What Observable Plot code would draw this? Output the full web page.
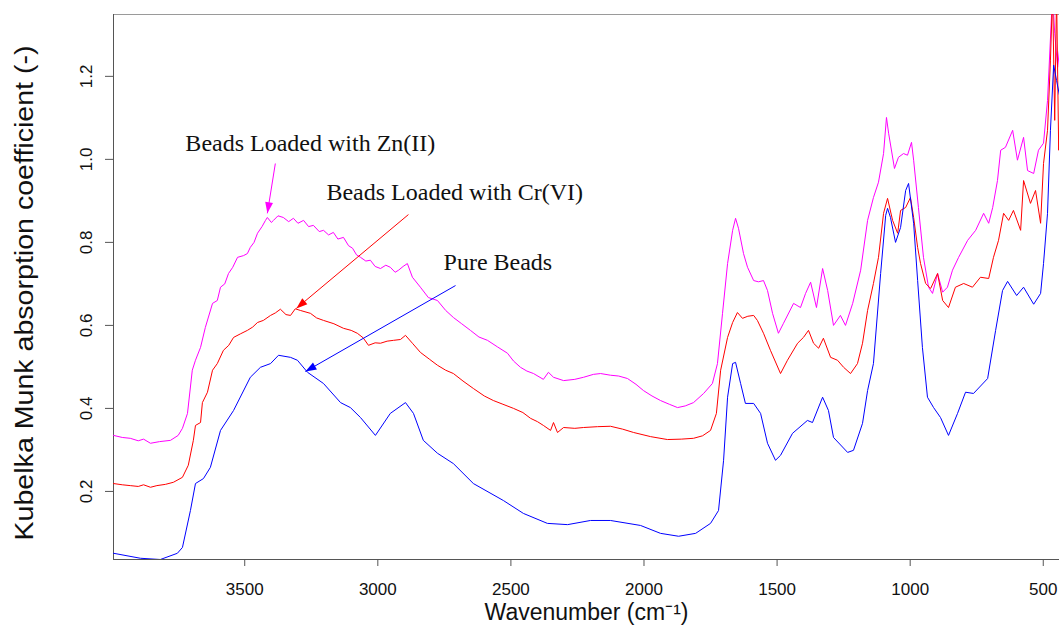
<!DOCTYPE html>
<html><head><meta charset="utf-8">
<script src="https://cdn.jsdelivr.net/npm/d3@7"></script>
<script src="https://cdn.jsdelivr.net/npm/@observablehq/plot@0.6"></script>
<style>html,body{margin:0;padding:0;background:#fff}</style>
</head><body><div id="chart"></div>
<script>
// Wavenumber (cm-1), Kubelka-Munk value
const pureBeads = [[3993,0.051],[3892,0.039],[3817,0.036],[3753,0.051],[3734,0.065],[3704,0.154],[3685,0.219],[3655,0.231],[3629,0.258],[3591,0.347],[3542,0.395],[3479,0.475],[3441,0.499],[3403,0.508],[3373,0.528],[3328,0.523],[3302,0.516],[3264,0.487],[3204,0.460],[3140,0.414],[3103,0.402],[3065,0.378],[3009,0.335],[2953,0.388],[2896,0.414],[2866,0.388],[2829,0.323],[2776,0.292],[2716,0.267],[2641,0.219],[2528,0.178],[2453,0.147],[2363,0.123],[2287,0.120],[2201,0.130],[2126,0.130],[2013,0.118],[1938,0.099],[1870,0.092],[1806,0.099],[1750,0.123],[1720,0.154],[1701,0.275],[1686,0.427],[1667,0.508],[1656,0.511],[1637,0.460],[1619,0.412],[1588,0.412],[1562,0.388],[1536,0.316],[1506,0.275],[1487,0.287],[1442,0.340],[1386,0.371],[1367,0.366],[1329,0.427],[1307,0.395],[1288,0.330],[1235,0.294],[1213,0.299],[1179,0.364],[1160,0.443],[1138,0.508],[1111,0.725],[1092,0.865],[1085,0.882],[1074,0.860],[1055,0.800],[1036,0.836],[1017,0.925],[1006,0.942],[987,0.846],[972,0.708],[954,0.547],[935,0.427],[912,0.402],[886,0.378],[856,0.335],[822,0.388],[792,0.439],[762,0.436],[709,0.472],[679,0.588],[653,0.684],[634,0.706],[600,0.672],[574,0.692],[536,0.651],[510,0.677],[499,0.749],[484,0.870],[473,1.070],[461,1.227],[450,1.190],[439,1.154]];

const crBeads = [[3993,0.219],[3960,0.216],[3930,0.214],[3900,0.212],[3880,0.216],[3854,0.210],[3830,0.214],[3798,0.217],[3768,0.222],[3734,0.234],[3712,0.263],[3693,0.323],[3685,0.359],[3666,0.366],[3659,0.414],[3640,0.439],[3621,0.492],[3603,0.508],[3580,0.540],[3560,0.552],[3542,0.571],[3515,0.580],[3490,0.588],[3470,0.596],[3452,0.607],[3430,0.612],[3403,0.624],[3385,0.630],[3366,0.639],[3345,0.626],[3328,0.624],[3310,0.640],[3291,0.636],[3253,0.629],[3230,0.618],[3204,0.612],[3165,0.604],[3129,0.593],[3100,0.588],[3077,0.581],[3055,0.570],[3035,0.552],[3010,0.558],[2990,0.557],[2965,0.562],[2941,0.564],[2915,0.566],[2896,0.576],[2870,0.557],[2840,0.535],[2805,0.518],[2776,0.504],[2745,0.492],[2716,0.484],[2680,0.466],[2641,0.448],[2600,0.430],[2566,0.419],[2530,0.410],[2490,0.400],[2455,0.390],[2426,0.376],[2400,0.368],[2378,0.359],[2351,0.347],[2340,0.366],[2325,0.342],[2302,0.354],[2260,0.352],[2227,0.354],[2175,0.356],[2126,0.357],[2080,0.350],[2039,0.342],[1975,0.332],[1912,0.325],[1860,0.326],[1814,0.328],[1780,0.334],[1750,0.347],[1728,0.388],[1712,0.492],[1686,0.571],[1667,0.607],[1649,0.631],[1630,0.617],[1610,0.622],[1588,0.624],[1574,0.612],[1551,0.581],[1525,0.540],[1487,0.484],[1461,0.516],[1423,0.557],[1401,0.571],[1382,0.588],[1363,0.557],[1344,0.545],[1326,0.569],[1299,0.523],[1273,0.516],[1250,0.499],[1224,0.484],[1198,0.508],[1179,0.557],[1160,0.636],[1138,0.701],[1119,0.764],[1100,0.870],[1085,0.906],[1066,0.853],[1047,0.822],[1036,0.877],[1017,0.884],[999,0.908],[987,0.860],[972,0.788],[961,0.749],[942,0.701],[923,0.689],[897,0.725],[878,0.660],[856,0.643],[830,0.692],[799,0.701],[766,0.692],[736,0.716],[705,0.713],[687,0.764],[668,0.805],[649,0.870],[630,0.853],[612,0.877],[585,0.829],[574,0.949],[548,0.894],[529,0.925],[510,0.846],[499,0.990],[484,1.070],[473,1.239],[465,1.400],[457,1.094],[450,1.400],[442,1.022],[439,1.094]];

const znBeads = [[3993,0.335],[3960,0.330],[3930,0.328],[3900,0.322],[3880,0.326],[3854,0.316],[3820,0.320],[3779,0.323],[3750,0.335],[3734,0.352],[3715,0.388],[3697,0.492],[3685,0.516],[3666,0.547],[3648,0.595],[3621,0.653],[3603,0.660],[3591,0.692],[3575,0.700],[3561,0.725],[3545,0.740],[3527,0.764],[3505,0.768],[3490,0.773],[3479,0.788],[3465,0.800],[3452,0.822],[3435,0.838],[3422,0.853],[3415,0.860],[3400,0.848],[3392,0.853],[3375,0.864],[3355,0.860],[3335,0.850],[3317,0.858],[3300,0.846],[3279,0.853],[3260,0.838],[3242,0.841],[3220,0.826],[3204,0.829],[3185,0.818],[3167,0.824],[3150,0.808],[3129,0.812],[3110,0.792],[3095,0.786],[3080,0.770],[3065,0.764],[3045,0.755],[3028,0.757],[3010,0.742],[2990,0.737],[2970,0.745],[2953,0.740],[2935,0.728],[2922,0.733],[2905,0.742],[2889,0.749],[2870,0.716],[2840,0.692],[2810,0.667],[2776,0.660],[2745,0.636],[2716,0.619],[2685,0.604],[2652,0.588],[2620,0.572],[2588,0.564],[2550,0.548],[2513,0.533],[2490,0.514],[2464,0.499],[2440,0.490],[2415,0.484],[2378,0.470],[2359,0.487],[2340,0.475],[2302,0.467],[2260,0.470],[2227,0.475],[2190,0.482],[2163,0.484],[2126,0.480],[2095,0.478],[2062,0.472],[2030,0.458],[2002,0.443],[1970,0.430],[1938,0.419],[1905,0.410],[1874,0.402],[1845,0.406],[1814,0.414],[1776,0.436],[1743,0.460],[1724,0.508],[1705,0.629],[1686,0.749],[1667,0.829],[1656,0.858],[1645,0.834],[1626,0.773],[1611,0.740],[1588,0.708],[1570,0.705],[1551,0.708],[1536,0.684],[1517,0.629],[1495,0.581],[1476,0.605],[1438,0.653],[1412,0.643],[1393,0.677],[1374,0.704],[1352,0.643],[1329,0.737],[1310,0.684],[1288,0.600],[1262,0.624],[1243,0.600],[1216,0.653],[1186,0.733],[1160,0.853],[1138,0.908],[1119,0.945],[1100,1.014],[1089,1.101],[1081,1.063],[1059,0.978],[1044,1.005],[1025,1.014],[1010,1.010],[995,1.041],[987,0.998],[969,0.884],[950,0.764],[931,0.692],[916,0.677],[897,0.725],[878,0.680],[860,0.692],[841,0.733],[818,0.764],[784,0.805],[754,0.829],[724,0.870],[705,0.846],[690,0.884],[672,0.949],[660,1.022],[642,1.029],[615,1.070],[597,0.998],[574,1.053],[559,0.973],[536,0.966],[518,1.022],[499,1.039],[484,1.142],[465,1.400],[457,1.304],[446,1.222],[439,1.263]];

const xTicks = [3500, 3000, 2500, 2000, 1500, 1000, 500];
const yTicks = [0.2, 0.4, 0.6, 0.8, 1.0, 1.2];

// annotation labels (data coordinates) and arrows (start -> tip)
const labels = [
  {text: "Beads Loaded with Zn(II)", x: 3723, y: 1.039},
  {text: "Beads Loaded with Cr(VI)", x: 3193, y: 0.921},
  {text: "Pure Beads", x: 2753, y: 0.752}
];
const arrows = [
  {x1: 3385, y1: 0.990, x2: 3415, y2: 0.870, color: "#ff00ff"},
  {x1: 2885, y1: 0.867, x2: 3306, y2: 0.641, color: "#ff0000"},
  {x1: 2708, y1: 0.696, x2: 3272, y2: 0.489, color: "#0000ff"}
];

const W = 1059, H = 632;
const mL = 113, mR = 0, mT = 14, mB = 73;
const xDomain = [3993, 439];
const yDomain = [0.036, 1.349];

const sx = Plot.scale({x: {domain: xDomain, range: [mL, W - mR]}});
const sy = Plot.scale({y: {domain: yDomain, range: [H - mB, mT]}});
const angleOf = (a) => {
  const dx = sx.apply(a.x2) - sx.apply(a.x1);
  const dy = sy.apply(a.y2) - sy.apply(a.y1);
  return Math.atan2(dx, -dy) * 180 / Math.PI;
};
const arrowHead = {
  draw(context, size) {
    const k = Math.sqrt(size / Math.PI);
    context.moveTo(0, 0);
    context.lineTo(0.36 * k, k);
    context.lineTo(-0.36 * k, k);
    context.closePath();
  }
};

const serif = "'Liberation Serif', 'DejaVu Serif', serif";
const yTitle = "Kubelka Munk absorption coefficient (-)";

const marks = [
  Plot.frame({stroke: "#9a9a9a"}),
  Plot.ruleX([xDomain[0]], {stroke: "#555"}),
  Plot.ruleY([yDomain[0]], {stroke: "#555"}),
  Plot.axisX({ticks: xTicks, tickSize: 7, tickPadding: 16, tickFormat: d => String(d), label: null, stroke: "#555", fill: "#111"}),
  Plot.axisY({ticks: yTicks, tickSize: 8, tickFormat: () => "", label: null, stroke: "#555"}),
  Plot.text(yTicks, {y: d => d, frameAnchor: "left", text: d => d3.format(".1f")(d), rotate: -90, dx: -22, textAnchor: "middle", lineAnchor: "bottom", fill: "#111"}),
  Plot.text([yTitle], {frameAnchor: "left", dx: -89, dy: 6, rotate: -90, textAnchor: "middle", lineAnchor: "middle", fontSize: 25, fill: "#111", className: "ytitle"}),
  Plot.text(["Wavenumber (cm\u207B\u00B9)"], {frameAnchor: "bottom", dy: 53, textAnchor: "middle", lineAnchor: "middle", fontSize: 23, fill: "#111"}),
  Plot.line(znBeads, {x: d => d[0], y: d => d[1], stroke: "#ff00ff", strokeWidth: 1, clip: true}),
  Plot.line(crBeads, {x: d => d[0], y: d => d[1], stroke: "#ff0000", strokeWidth: 1, clip: true}),
  Plot.line(pureBeads, {x: d => d[0], y: d => d[1], stroke: "#0000ff", strokeWidth: 1, clip: true}),
  Plot.text(labels, {x: "x", y: "y", text: "text", textAnchor: "start", fontFamily: serif, fontSize: 24, fill: "#111"})
];
for (const a of arrows) {
  marks.push(Plot.link([a], {x1: "x1", y1: "y1", x2: "x2", y2: "y2", stroke: a.color, strokeWidth: 1}));
  marks.push(Plot.dot([a], {x: "x2", y: "y2", symbol: arrowHead, r: 11, fill: a.color, stroke: "none", rotate: angleOf(a)}));
}

const chart = Plot.plot({
  width: W, height: H,
  marginLeft: mL, marginRight: mR, marginTop: mT, marginBottom: mB,
  x: {domain: xDomain},
  y: {domain: yDomain},
  style: {fontFamily: "'Liberation Sans', Arial, sans-serif", fontSize: "17px", background: "#fff", overflow: "visible"},
  marks
});
// stretch the y-axis title along its length to match the reference
chart.querySelectorAll(".ytitle text").forEach(t => {
  t.setAttribute("textLength", "495");
  t.setAttribute("lengthAdjust", "spacingAndGlyphs");
});
document.getElementById("chart").appendChild(chart);
</script></body></html>
